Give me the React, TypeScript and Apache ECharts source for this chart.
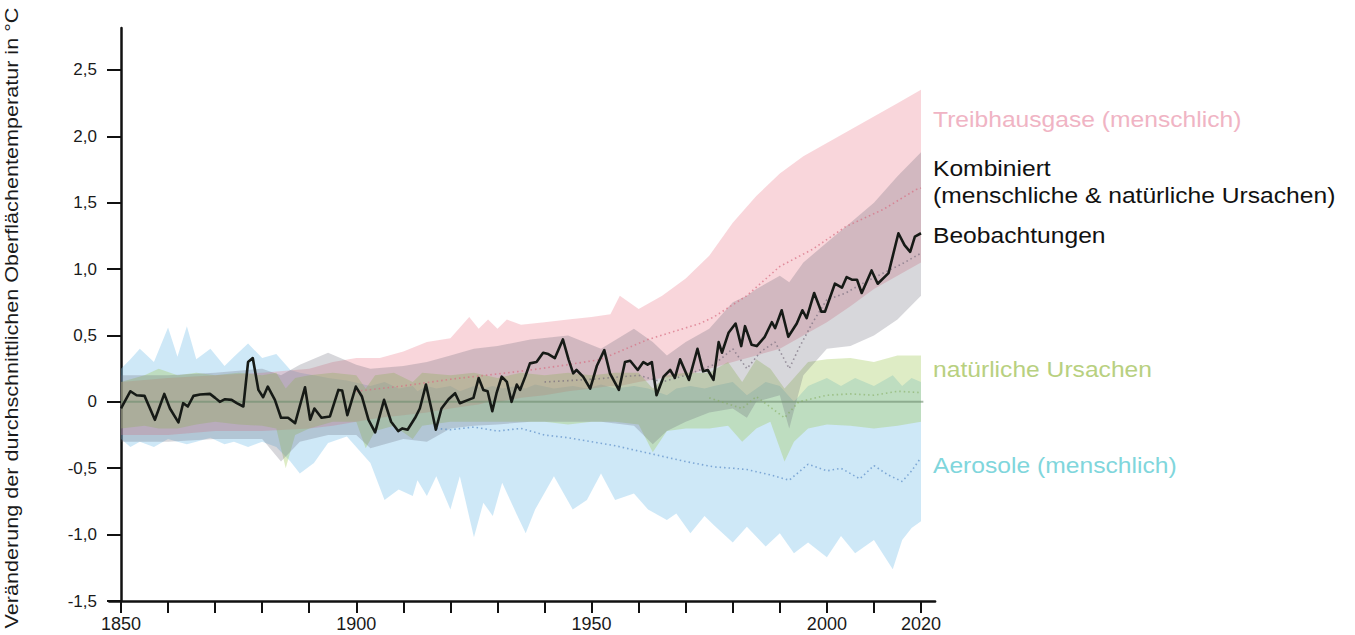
import React, { useEffect, useRef } from 'react';
import * as echarts from 'echarts';

// ---------- Data ----------
const yTicks = [-1.5, -1, -0.5, 0, 0.5, 1, 1.5, 2, 2.5];
const xTickYears = [1850, 1860, 1870, 1880, 1890, 1900, 1910, 1920, 1930, 1940, 1950, 1960, 1970, 1980, 1990, 2000, 2010, 2020];
const xLabelYears = [1850, 1900, 1950, 2000, 2020];

// Observations (black line)
const obsYears = [1850, 1852, 1853.3, 1855, 1857.2, 1859.2, 1860.4, 1862.2, 1863.2, 1864.2, 1865.4, 1866.8, 1868.9, 1870, 1871, 1872.1, 1873.5, 1874.6, 1876, 1877, 1878, 1879.2, 1880.2, 1881.2, 1882.7, 1884, 1885.5, 1887, 1889.1, 1890.2, 1891.1, 1892.6, 1894.4, 1896.2, 1897, 1898.1, 1899.9, 1901.2, 1902.6, 1904, 1905.9, 1907.4, 1908.9, 1909.8, 1910.9, 1912.5, 1913.5, 1914.8, 1916, 1916.9, 1918.1, 1919.6, 1921, 1922, 1923.8, 1924.9, 1926, 1927, 1927.9, 1928.9, 1929.8, 1930.9, 1932, 1933, 1934.1, 1934.8, 1935.9, 1936.9, 1938.3, 1939.7, 1940.8, 1942.2, 1943.9, 1945.1, 1946.1, 1946.8, 1948.2, 1949.7, 1951.1, 1952.7, 1953.9, 1955.8, 1957.1, 1958.2, 1959.8, 1961, 1961.9, 1962.8, 1963.8, 1965.3, 1966.7, 1967.7, 1968.8, 1970.7, 1972.5, 1973.7, 1974.7, 1975.9, 1977, 1977.7, 1979.1, 1980.6, 1981.8, 1982.6, 1984, 1985.1, 1986.8, 1988.3, 1989, 1990.4, 1991.8, 1993.6, 1994.8, 1995.7, 1997.3, 1998.8, 1999.6, 2001.7, 2003.2, 2004.2, 2005.3, 2006.4, 2007.4, 2009.5, 2010.8, 2013.1, 2015.2, 2016.5, 2017.7, 2018.7, 2020];
const obsValues = [-0.05, 0.08, 0.05, 0.045, -0.135, 0.06, -0.05, -0.155, -0.01, -0.035, 0.045, 0.055, 0.06, 0.03, 0.0, 0.02, 0.015, -0.01, -0.035, 0.30, 0.33, 0.09, 0.035, 0.115, 0.015, -0.12, -0.12, -0.16, 0.11, -0.135, -0.05, -0.12, -0.11, 0.09, 0.085, -0.10, 0.115, 0.04, -0.135, -0.23, 0.015, -0.15, -0.22, -0.20, -0.21, -0.12, -0.05, 0.13, -0.06, -0.21, -0.05, 0.02, 0.065, -0.01, 0.015, 0.03, 0.18, 0.09, 0.08, -0.07, 0.065, 0.19, 0.15, 0.0, 0.13, 0.09, 0.19, 0.29, 0.30, 0.37, 0.36, 0.33, 0.47, 0.32, 0.215, 0.24, 0.19, 0.10, 0.27, 0.39, 0.215, 0.09, 0.30, 0.31, 0.24, 0.30, 0.28, 0.30, 0.05, 0.19, 0.24, 0.18, 0.32, 0.165, 0.40, 0.23, 0.24, 0.165, 0.45, 0.37, 0.52, 0.59, 0.42, 0.57, 0.43, 0.42, 0.49, 0.60, 0.555, 0.69, 0.49, 0.59, 0.69, 0.63, 0.82, 0.68, 0.68, 0.89, 0.86, 0.94, 0.92, 0.92, 0.82, 0.99, 0.89, 0.97, 1.27, 1.18, 1.13, 1.245, 1.27];

// Greenhouse gases band
const ghgYears = [1850, 1860, 1870, 1880, 1890, 1895, 1900, 1905, 1910, 1915, 1920, 1924, 1926, 1928, 1930, 1932, 1935, 1940, 1945, 1950, 1954, 1956, 1960, 1965, 1970, 1975, 1980, 1985, 1990, 1995, 2000, 2005, 2010, 2015, 2020];
const ghgUpper = [0.15, 0.18, 0.2, 0.22, 0.25, 0.3, 0.33, 0.33, 0.38, 0.45, 0.48, 0.64, 0.55, 0.62, 0.55, 0.62, 0.58, 0.6, 0.62, 0.64, 0.66, 0.8, 0.7, 0.8, 0.93, 1.1, 1.35, 1.55, 1.72, 1.85, 1.95, 2.05, 2.15, 2.25, 2.35];
const ghgLower = [-0.25, -0.25, -0.22, -0.22, -0.2, -0.18, -0.15, -0.12, -0.1, -0.08, -0.05, -0.03, -0.02, 0, 0, 0.01, 0.03, 0.05, 0.08, 0.1, 0.12, 0.12, 0.15, 0.18, 0.2, 0.25, 0.3, 0.35, 0.4, 0.5, 0.6, 0.72, 0.85, 0.95, 1.05];
const ghgMidYears = [1900, 1910, 1920, 1930, 1937, 1945, 1952, 1962, 1973, 1976, 1983, 1990, 1997, 2004, 2012, 2019, 2020];
const ghgMid = [0.08, 0.12, 0.17, 0.21, 0.24, 0.28, 0.32, 0.47, 0.59, 0.64, 0.8, 1.02, 1.15, 1.32, 1.45, 1.6, 1.61];

// Combined band
const cmbYears = [1850, 1860, 1870, 1880, 1884, 1888, 1894, 1900, 1903, 1910, 1915, 1920, 1925, 1930, 1937, 1945, 1952, 1959, 1963, 1966, 1970, 1975, 1980, 1983, 1985, 1990, 1992, 1995, 2000, 2005, 2010, 2015, 2020];
const cmbUpper = [0.2, 0.2, 0.22, 0.25, 0.2, 0.28, 0.37, 0.28, 0.25, 0.27, 0.3, 0.35, 0.4, 0.42, 0.47, 0.5, 0.4, 0.55, 0.45, 0.35, 0.45, 0.55, 0.75, 0.8, 0.85, 0.95, 0.9, 1.05, 1.2, 1.35, 1.5, 1.7, 1.88];
const cmbLower = [-0.3, -0.3, -0.28, -0.28, -0.45, -0.3, -0.25, -0.25, -0.35, -0.28, -0.3, -0.2, -0.18, -0.17, -0.15, -0.15, -0.15, -0.18, -0.32, -0.22, -0.15, -0.08, -0.05, -0.12, 0.0, 0.05, -0.2, 0.2, 0.4, 0.42, 0.5, 0.62, 0.8];
const cmbMidYears = [1940, 1950, 1960, 1965, 1970, 1976, 1980, 1983, 1986, 1989, 1992, 1994, 1997, 2000, 2004, 2008, 2012, 2016, 2020];
const cmbMid = [0.15, 0.17, 0.2, 0.15, 0.2, 0.28, 0.4, 0.25, 0.38, 0.45, 0.25, 0.4, 0.6, 0.77, 0.82, 0.9, 0.97, 1.04, 1.12];

// Natural band
const natYears = [1850, 1855, 1858, 1862, 1866, 1870, 1875, 1880, 1883, 1885, 1887, 1890, 1895, 1900, 1902, 1904, 1908, 1912, 1914, 1920, 1925, 1930, 1935, 1940, 1945, 1950, 1955, 1960, 1963, 1966, 1970, 1975, 1979, 1982, 1985, 1988, 1991, 1993, 1996, 2000, 2005, 2010, 2015, 2020];
const natUpper = [0.15, 0.2, 0.25, 0.2, 0.22, 0.2, 0.22, 0.2, 0.22, 0.1, 0.18, 0.2, 0.22, 0.2, 0.1, 0.2, 0.22, 0.15, 0.22, 0.2, 0.22, 0.18, 0.22, 0.2, 0.22, 0.2, 0.22, 0.22, 0.1, 0.2, 0.22, 0.22, 0.3, 0.15, 0.32, 0.25, 0.1, 0.18, 0.3, 0.32, 0.33, 0.3, 0.35, 0.35];
const natLower = [-0.2, -0.18, -0.2, -0.2, -0.17, -0.15, -0.17, -0.18, -0.2, -0.5, -0.25, -0.2, -0.15, -0.15, -0.35, -0.22, -0.18, -0.28, -0.18, -0.15, -0.15, -0.15, -0.15, -0.15, -0.17, -0.15, -0.15, -0.17, -0.38, -0.22, -0.2, -0.2, -0.18, -0.3, -0.2, -0.15, -0.45, -0.3, -0.2, -0.17, -0.18, -0.2, -0.18, -0.15];
const natMidYears = [1975, 1982, 1985, 1991, 1994, 2000, 2005, 2010, 2015, 2020];
const natMid = [0.03, -0.05, 0.04, -0.12, 0.0, 0.05, 0.06, 0.05, 0.08, 0.07];

// Aerosol band
const aerYears = [1850, 1852, 1854, 1857, 1860, 1862, 1864, 1866, 1869, 1872, 1874, 1877, 1880, 1883, 1886, 1888, 1891, 1894, 1898, 1903, 1906, 1909, 1912, 1913, 1915, 1917, 1920, 1922, 1925, 1927, 1929, 1931, 1934, 1936, 1938, 1942, 1946, 1949, 1952, 1955, 1959, 1962, 1966, 1968, 1971, 1974, 1976, 1980, 1983, 1987, 1990, 1993, 1996, 2000, 2003, 2006, 2010, 2014, 2016, 2018, 2020];
const aerUpper = [0.25, 0.32, 0.4, 0.3, 0.56, 0.34, 0.57, 0.32, 0.4, 0.27, 0.34, 0.44, 0.33, 0.36, 0.24, 0.22, 0.2, 0.18, 0.16, 0.12, 0.15, 0.1, 0.12, 0.08, 0.12, 0.1, 0.12, 0.08, 0.12, 0.1, 0.12, 0.1, 0.12, 0.1, 0.13, 0.1, 0.12, 0.1, 0.13, 0.1, 0.12, 0.1, 0.05, 0.1, 0.12, 0.1, 0.12, 0.15, 0.05, 0.15, 0.12, 0.0, 0.12, 0.18, 0.12, 0.18, 0.12, 0.2, 0.12, 0.18, 0.15];
const aerLower = [-0.28, -0.34, -0.3, -0.34, -0.28, -0.3, -0.32, -0.3, -0.27, -0.32, -0.3, -0.34, -0.3, -0.34, -0.45, -0.54, -0.46, -0.31, -0.26, -0.46, -0.74, -0.66, -0.71, -0.59, -0.71, -0.56, -0.81, -0.56, -1.02, -0.76, -0.86, -0.61, -0.84, -0.99, -0.81, -0.56, -0.81, -0.74, -0.54, -0.74, -0.69, -0.81, -0.89, -0.84, -0.99, -0.86, -0.93, -1.06, -0.94, -1.09, -0.99, -1.14, -1.06, -1.17, -1.01, -1.14, -1.04, -1.26, -1.04, -0.95, -0.9];
const aerMidYears = [1917, 1920, 1925, 1930, 1935, 1940, 1945, 1950, 1955, 1960, 1965, 1970, 1976, 1980, 1983, 1988, 1992, 1996, 2000, 2003, 2007, 2010, 2013, 2016, 2018, 2020];
const aerMid = [-0.2, -0.21, -0.19, -0.22, -0.2, -0.25, -0.27, -0.3, -0.33, -0.37, -0.41, -0.45, -0.49, -0.5, -0.51, -0.55, -0.59, -0.47, -0.52, -0.5, -0.58, -0.48, -0.55, -0.6, -0.52, -0.42];

const zeroYears = [1850, 2020.5];
const zeroValues = [0, 0];

const FONT = '"Liberation Sans", Arial, Helvetica, sans-serif';

function pairs(xs: number[], ys: number[]) {
  return xs.map((x, i) => [x, ys[i]]);
}

// Band drawn as one polygon through the cartesian scales (api.coord)
function band(id: string, years: number[], lower: number[], upper: number[], color: string) {
  return {
    type: 'custom', name: id, silent: true,
    data: years.map((y, i) => [y, lower[i], upper[i]]),
    encode: { x: 0, y: [1, 2] },
    renderItem: (params: any, api: any) => {
      if (params.dataIndex !== 0) return null;
      const top = years.map((y, i) => api.coord([y, upper[i]]));
      const bottom = years.map((y, i) => api.coord([y, lower[i]])).reverse();
      return {
        type: 'polygon',
        shape: { points: top.concat(bottom) },
        style: { fill: color },
      };
    },
  };
}

function dotted(id: string, years: number[], vals: number[], color: string) {
  return {
    type: 'line', name: id, data: pairs(years, vals), symbol: 'none', silent: true,
    lineStyle: { color, width: 1.6, type: [1.5, 3] },
  };
}

export default function App() {
  const ref = useRef<HTMLDivElement>(null);
  useEffect(() => {
    const chart = echarts.init(ref.current!, null, { renderer: 'svg' });
    const pxPerYear = 800 / 170;
    const xMin = 1847.5;
    const xMax = 2023;
    const yOffset = -(1850 - xMin) * pxPerYear;

    const option: any = {
      animation: false,
      backgroundColor: '#ffffff',
      grid: {
        left: 121 - (1850 - xMin) * pxPerYear,
        right: 1355 - (921 + (xMax - 2020) * pxPerYear),
        top: 28,
        bottom: 34,
        outerBoundsMode: 'none',
      },
      xAxis: {
        type: 'value', min: xMin, max: xMax,
        splitLine: { show: false },
        axisLine: { show: true, onZero: false, lineStyle: { color: '#111', width: 2.5 } },
        axisTick: { show: true, length: 12, lineStyle: { color: '#111', width: 2 }, customValues: xTickYears },
        axisLabel: {
          customValues: xLabelYears, margin: 14, fontSize: 18, color: '#1a1a1a', fontFamily: FONT,
          formatter: (v: number) => String(v),
        },
      },
      yAxis: {
        type: 'value', min: -1.5, max: 2.816, offset: yOffset,
        splitLine: { show: false },
        axisLine: { show: true, onZero: false, lineStyle: { color: '#111', width: 2.5 } },
        axisTick: { show: true, length: 14, lineStyle: { color: '#111', width: 2 }, customValues: yTicks },
        axisLabel: {
          customValues: yTicks, margin: 24, fontSize: 17, color: '#1a1a1a', fontFamily: FONT,
          formatter: (v: number) => (Math.abs(v) < 1e-9 ? '0' : v.toFixed(1).replace('.', ',')),
        },
      },
      series: [
        band('aer', aerYears, aerLower, aerUpper, 'rgba(120,190,232,0.36)'),
        band('ghg', ghgYears, ghgLower, ghgUpper, 'rgba(235,120,135,0.3)'),
        band('nat', natYears, natLower, natUpper, 'rgba(160,200,90,0.35)'),
        band('cmb', cmbYears, cmbLower, cmbUpper, 'rgba(100,100,115,0.26)'),
        {
          type: 'line', name: 'zero', data: pairs(zeroYears, zeroValues), symbol: 'none', silent: true,
          lineStyle: { color: 'rgba(110,140,110,0.6)', width: 2 },
        },
        dotted('aerMid', aerMidYears, aerMid, 'rgba(90,140,200,0.7)'),
        dotted('natMid', natMidYears, natMid, 'rgba(130,170,90,0.55)'),
        dotted('ghgMid', ghgMidYears, ghgMid, 'rgba(215,110,130,0.7)'),
        dotted('cmbMid', cmbMidYears, cmbMid, 'rgba(120,110,125,0.7)'),
        {
          type: 'line', name: 'Beobachtungen', data: pairs(obsYears, obsValues), symbol: 'none', silent: true,
          lineStyle: { color: '#161a16', width: 2.6, join: 'round' },
          z: 5,
        },
      ],
      graphic: [
        {
          type: 'text', x: 12, y: 318, rotation: Math.PI / 2, scaleX: 1.2,
          style: { text: 'Veränderung der durchschnittlichen Oberflächentemperatur in °C', font: '18px ' + FONT, fill: '#1a1a1a', textAlign: 'center', textVerticalAlign: 'middle' },
        },
        {
          type: 'text', x: 933, y: 119, scaleX: 1.12,
          style: { text: 'Treibhausgase (menschlich)', font: '22px ' + FONT, fill: '#f0b4c4', textAlign: 'left', textVerticalAlign: 'middle' },
        },
        {
          type: 'text', x: 933, y: 168, scaleX: 1.12,
          style: { text: 'Kombiniert', font: '22px ' + FONT, fill: '#111111', textAlign: 'left', textVerticalAlign: 'middle' },
        },
        {
          type: 'text', x: 933, y: 195, scaleX: 1.12,
          style: { text: '(menschliche & natürliche Ursachen)', font: '22px ' + FONT, fill: '#111111', textAlign: 'left', textVerticalAlign: 'middle' },
        },
        {
          type: 'text', x: 933, y: 235, scaleX: 1.12,
          style: { text: 'Beobachtungen', font: '22px ' + FONT, fill: '#111111', textAlign: 'left', textVerticalAlign: 'middle' },
        },
        {
          type: 'text', x: 933, y: 369, scaleX: 1.12,
          style: { text: 'natürliche Ursachen', font: '22px ' + FONT, fill: '#b8d080', textAlign: 'left', textVerticalAlign: 'middle' },
        },
        {
          type: 'text', x: 933, y: 465, scaleX: 1.12,
          style: { text: 'Aerosole (menschlich)', font: '22px ' + FONT, fill: '#80d6dc', textAlign: 'left', textVerticalAlign: 'middle' },
        },
      ],
    };
    chart.setOption(option);
    return () => chart.dispose();
  }, []);
  return <div ref={ref} style={{ position: 'absolute', left: 0, top: 0, width: 1355, height: 635 }} />;
}
